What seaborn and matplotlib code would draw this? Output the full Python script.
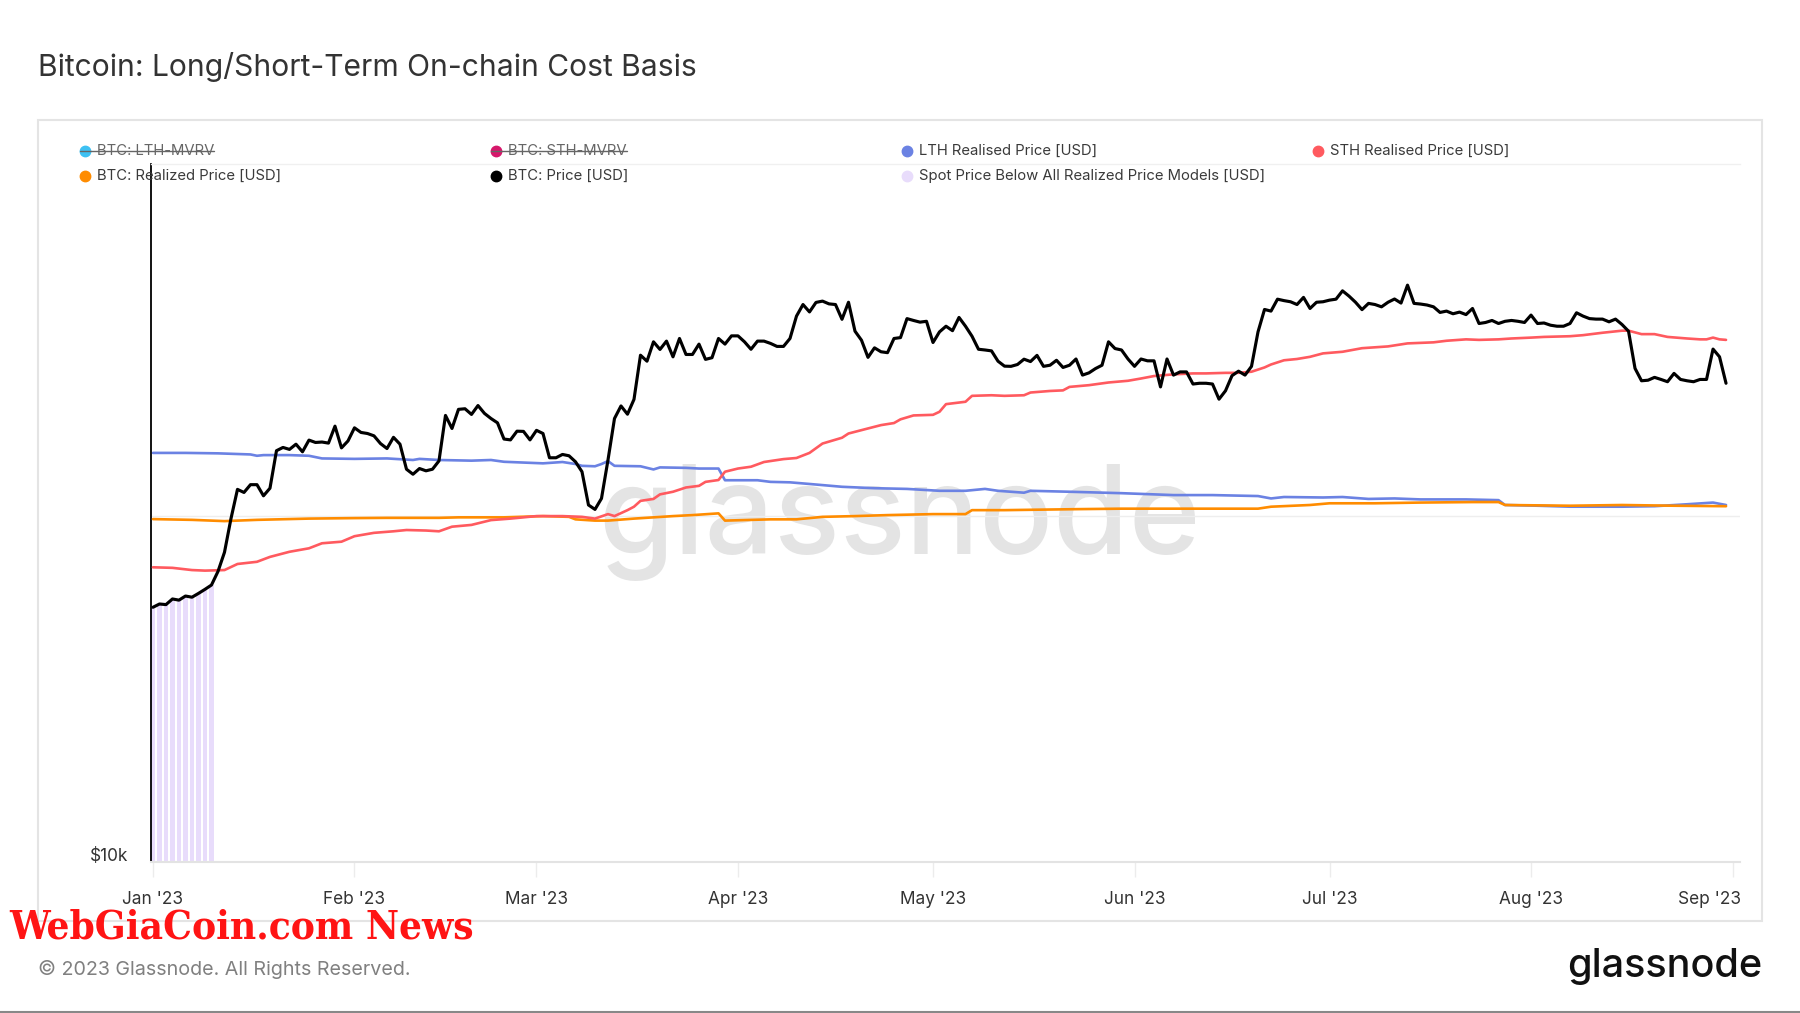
import datetime as dt
import numpy as np
import matplotlib
matplotlib.use("Agg")
import matplotlib.pyplot as plt
import seaborn as sns
from matplotlib.lines import Line2D
from matplotlib.patches import Rectangle
from matplotlib.ticker import NullLocator, NullFormatter
from matplotlib.transforms import ScaledTranslation

# ---------------- data ----------------
START = dt.date(2023, 1, 1)
month_labels = ["Jan '23", "Feb '23", "Mar '23", "Apr '23", "May '23",
                "Jun '23", "Jul '23", "Aug '23", "Sep '23"]
month_days = [(dt.date(2023, m, 1) - START).days for m in range(1, 10)]

# BTC price, daily (thousands USD), day 0 = 2023-01-01
price_days = list(range(243))
btc_price_k = [
    16.66, 16.77, 16.75, 16.94, 16.90, 17.04, 17.00, 17.13, 17.27, 17.42,
    17.90, 18.60, 19.90, 21.10, 20.97, 21.30, 21.30, 20.83, 21.15, 22.80,
    22.95, 22.86, 23.10, 22.75, 23.29, 23.18, 23.20, 23.15, 23.95, 22.93,
    23.25, 23.87, 23.65, 23.60, 23.49, 23.13, 22.90, 23.42, 23.10, 21.97,
    21.75, 22.00, 21.90, 21.97, 22.34, 24.47, 23.84, 24.77, 24.80, 24.52,
    24.96, 24.57, 24.32, 24.11, 23.34, 23.30, 23.71, 23.70, 23.30, 23.75,
    23.60, 22.48, 22.48, 22.63, 22.57, 22.30, 21.86, 20.45, 20.27, 20.72,
    22.38, 24.32, 24.94, 24.53, 25.27, 27.61, 27.28, 28.36, 27.93, 28.40,
    27.52, 28.55, 27.65, 27.65, 28.23, 27.38, 27.47, 28.55, 28.23, 28.70,
    28.70, 28.36, 27.94, 28.40, 28.40, 28.27, 28.10, 28.10, 28.55, 29.86,
    30.56, 30.11, 30.69, 30.77, 30.60, 30.56, 29.67, 30.70, 28.97, 28.45,
    27.49, 28.02, 27.80, 27.75, 28.55, 28.60, 29.71, 29.60, 29.50, 29.55,
    28.32, 28.93, 29.26, 29.00, 29.78, 29.26, 28.68, 27.94, 27.90, 27.85,
    27.28, 27.01, 27.00, 27.10, 27.39, 27.26, 27.60, 27.00, 27.06, 27.33,
    26.94, 27.06, 27.40, 26.53, 26.65, 26.88, 27.06, 28.36, 27.98, 27.90,
    27.40, 27.00, 27.40, 27.30, 27.30, 25.91, 27.40, 26.53, 26.70, 26.70,
    26.06, 26.10, 26.10, 26.06, 25.28, 25.71, 26.50, 26.74, 26.53, 27.00,
    28.93, 30.26, 30.16, 30.89, 30.80, 30.73, 30.56, 31.00, 30.32, 30.70,
    30.73, 30.83, 30.89, 31.41, 31.08, 30.70, 30.25, 30.63, 30.56, 30.42,
    30.70, 30.90, 30.65, 31.77, 30.63, 30.59, 30.53, 30.42, 30.08, 30.16,
    30.00, 30.10, 29.95, 30.32, 29.42, 29.48, 29.60, 29.42, 29.55, 29.60,
    29.55, 29.48, 29.92, 29.42, 29.45, 29.32, 29.26, 29.26, 29.42, 30.06,
    29.86, 29.71, 29.68, 29.68, 29.52, 29.68, 29.36, 28.97, 26.89, 26.23,
    26.26, 26.41, 26.30, 26.18, 26.62, 26.30, 26.23, 26.18, 26.30, 26.30,
    27.95, 27.52, 26.10,
]

# STH realised price (thousands USD)
sth_days = [0, 3, 6, 8, 11, 13, 16, 18, 21, 24, 26, 29, 31, 34, 37, 39, 42, 44, 46, 49,
            52, 55, 59, 63, 66, 68, 70, 71, 73, 74, 75, 77, 78, 80, 82, 84, 85, 87, 88, 90,
            92, 94, 97, 99, 101, 103, 106, 107, 110, 112, 114, 115, 117, 120, 121, 122, 125, 126, 129, 131,
            134, 135, 138, 140, 141, 144, 147, 150, 152, 154, 157, 160, 162, 165, 167, 169, 171, 172, 174, 176,
            178, 180, 183, 186, 190, 193, 197, 199, 202, 204, 207, 209, 212, 214, 218, 220, 223, 226, 227, 229,
            231, 233, 236, 238, 239, 240, 241, 242]
sth_price_k = [18.05, 18.03, 17.95, 17.93, 17.95, 18.17, 18.25, 18.43, 18.62, 18.75,
               18.94, 19.00, 19.21, 19.34, 19.40, 19.45, 19.43, 19.40, 19.58, 19.65,
               19.84, 19.90, 20.00, 20.00, 19.97, 19.90, 20.08, 20.00, 20.24, 20.38,
               20.62, 20.70, 20.89, 21.00, 21.18, 21.25, 21.42, 21.50, 21.86, 22.00,
               22.08, 22.29, 22.42, 22.47, 22.70, 23.13, 23.40, 23.60, 23.84, 24.00,
               24.10, 24.28, 24.47, 24.50, 24.65, 25.03, 25.15, 25.45, 25.48, 25.45,
               25.48, 25.62, 25.70, 25.73, 25.91, 26.00, 26.14, 26.23, 26.35, 26.48,
               26.57, 26.62, 26.62, 26.65, 26.65, 26.71, 26.94, 27.10, 27.33, 27.40,
               27.52, 27.71, 27.80, 28.00, 28.10, 28.27, 28.33, 28.42, 28.50, 28.47,
               28.50, 28.55, 28.60, 28.64, 28.68, 28.74, 28.88, 29.00, 29.00, 28.80,
               28.80, 28.64, 28.55, 28.50, 28.50, 28.60, 28.50, 28.47]

# LTH realised price (thousands USD)
lth_days = [0, 5, 10, 15, 16, 17, 21, 24, 26, 31, 36, 40, 41, 44, 49, 52, 54, 60, 63, 65,
            66, 68, 69, 70, 71, 75, 77, 78, 82, 84, 87, 88, 93, 95, 98, 101, 106, 111, 116, 121,
            125, 128, 130, 134, 135, 141, 149, 157, 163, 170, 172, 174, 180, 183, 187, 191, 195, 202, 207, 208,
            213, 218, 226, 231, 236, 240, 242]
lth_price_k = [22.70, 22.70, 22.68, 22.63, 22.57, 22.60, 22.60, 22.57, 22.45, 22.43,
               22.45, 22.38, 22.43, 22.38, 22.35, 22.38, 22.30, 22.23, 22.29, 22.20,
               22.12, 22.10, 22.20, 22.33, 22.12, 22.10, 21.96, 22.05, 22.03, 22.00,
               22.00, 21.49, 21.49, 21.42, 21.40, 21.33, 21.21, 21.15, 21.12, 21.04,
               21.04, 21.12, 21.04, 20.96, 21.04, 21.00, 20.94, 20.86, 20.86, 20.82,
               20.72, 20.78, 20.76, 20.78, 20.70, 20.72, 20.68, 20.68, 20.65, 20.45,
               20.42, 20.38, 20.38, 20.40, 20.48, 20.55, 20.45]

# BTC realized price (thousands USD)
rp_days = [0, 6, 11, 16, 24, 31, 36, 44, 47, 54, 60, 64, 65, 68, 70, 74, 80, 83, 87, 88,
           95, 99, 103, 108, 113, 120, 125, 126, 131, 142, 149, 157, 164, 170, 172, 178, 181, 188, 195, 203,
           207, 208, 218, 226, 234, 242]
rp_price_k = [19.88, 19.85, 19.80, 19.85, 19.90, 19.92, 19.93, 19.93, 19.95, 19.95,
              20.00, 19.97, 19.87, 19.82, 19.82, 19.90, 20.00, 20.04, 20.11, 19.82,
              19.87, 19.87, 19.97, 20.00, 20.04, 20.08, 20.08, 20.24, 20.24, 20.28,
              20.30, 20.30, 20.30, 20.30, 20.38, 20.45, 20.52, 20.52, 20.55, 20.57,
              20.57, 20.45, 20.42, 20.45, 20.42, 20.40]

# Spot price below all realized price models (thousands USD)
spot_below_days = list(range(10))
spot_below_k = btc_price_k[:10]

title = "Bitcoin: Long/Short-Term On-chain Cost Basis"

# ---------------- style ----------------
sns.set_theme(style="white")
plt.rcParams["font.family"] = ["Inter", "DejaVu Sans"]

W, H = 1800, 1013
fig = plt.figure(figsize=(18, 10.13), dpi=100)
fig.patch.set_facecolor("white")


def fx(px):
    return px / W


def fy(py):
    return 1 - py / H


ax_l, ax_r, ax_t, ax_b = 150.7, 1740, 164, 862
ax = fig.add_axes([fx(ax_l), fy(ax_b), fx(ax_r) - fx(ax_l), fy(ax_t) - fy(ax_b)])
ax.set_facecolor("white")

C_LTH = "#6b82e3"
C_STH = "#ff5a5f"
C_RP = "#ff8c00"
C_PX = "#000000"
C_SPOT = "#e8dcfb"

# watermark
ax.text(fx(899), fy(554), "glassnode", transform=fig.transFigure, ha="center",
        va="baseline", fontsize=88, color="#e4e4e4", fontweight="medium", zorder=0.2)

ax.axhline(20000, color="#eeeeee", lw=1.0, zorder=0.5)

# spot price below all models bars
spot_vals = np.array(spot_below_k) * 1000
ax.bar(spot_below_days, spot_vals - 10000, bottom=10000, width=0.72,
       color=C_SPOT, linewidth=0, zorder=1)

sns.lineplot(x=lth_days, y=np.array(lth_price_k) * 1000, ax=ax, color=C_LTH,
             linewidth=1.9, estimator=None, legend=False, zorder=2)
sns.lineplot(x=rp_days, y=np.array(rp_price_k) * 1000, ax=ax, color=C_RP,
             linewidth=1.9, estimator=None, legend=False, zorder=3)
sns.lineplot(x=sth_days, y=np.array(sth_price_k) * 1000, ax=ax, color=C_STH,
             linewidth=1.9, estimator=None, legend=False, zorder=4)
sns.lineplot(x=price_days, y=np.array(btc_price_k) * 1000, ax=ax, color=C_PX,
             linewidth=2.25, estimator=None, legend=False, zorder=5)

ax.set_yscale("log")
ax.set_ylim(10000, 40500)
ax.set_xlim(-0.35, 244.15)
ax.set_xlabel("")
ax.set_ylabel("")

ax.set_yticks([10000])
ax.set_yticklabels(["$10k"])
ax.yaxis.set_minor_locator(NullLocator())
ax.yaxis.set_minor_formatter(NullFormatter())
ax.tick_params(axis="y", length=0, pad=16, labelsize=12.4, labelcolor="#333333", left=False)
for lbl in ax.get_yticklabels():
    lbl.set_va("bottom")
    lbl.set_transform(lbl.get_transform() + ScaledTranslation(0, -0.025, fig.dpi_scale_trans))

ax.set_xticks(month_days)
ax.set_xticklabels(month_labels)
ax.tick_params(axis="x", bottom=True, length=11, width=1, color="#ececec",
               pad=10, labelsize=12.4, labelcolor="#333333")
last = ax.get_xticklabels()[-1]
last.set_ha("right")
last.set_transform(last.get_transform() + ScaledTranslation(0.08, 0, fig.dpi_scale_trans))

ax.grid(False)
ax.spines["left"].set_color("#000000")
ax.spines["left"].set_linewidth(1.3)
ax.spines["bottom"].set_color("#e3e3e3")
ax.spines["bottom"].set_linewidth(1.5)
ax.spines["top"].set_color("#f0f0f0")
ax.spines["top"].set_linewidth(1.0)
ax.spines["right"].set_visible(False)

# outer frame
fig.add_artist(Rectangle((fx(38), fy(921)), fx(1762) - fx(38), fy(120) - fy(921),
                         transform=fig.transFigure, fill=False,
                         edgecolor="#e4e4e4", linewidth=1.5, zorder=0))

# title
fig.text(fx(38), fy(67), title, va="center", ha="left", fontsize=21.6, color="#333333")

# legend (manual grid)
legend_items = [
    (85, 151, "#3ec1f3", "BTC: LTH-MVRV", True),
    (496, 151, "#d6176b", "BTC: STH-MVRV", True),
    (907, 151, C_LTH, "LTH Realised Price [USD]", False),
    (1318, 151, C_STH, "STH Realised Price [USD]", False),
    (85, 176, C_RP, "BTC: Realized Price [USD]", False),
    (496, 176, C_PX, "BTC: Price [USD]", False),
    (907, 176, C_SPOT, "Spot Price Below All Realized Price Models [USD]", False),
]
texts = []
for mx, my, col, label, struck in legend_items:
    fig.add_artist(Line2D([fx(mx)], [fy(my)], marker="o", markersize=7.5,
                          color=col, linestyle="none", transform=fig.transFigure))
    t = fig.text(fx(mx + 12), fy(my), label, va="center", ha="left", fontsize=10.7,
                 color="#666666" if struck else "#3a3a3a")
    texts.append((t, mx, my, struck))

fig.canvas.draw()
renderer = fig.canvas.get_renderer()
for t, mx, my, struck in texts:
    if struck:
        bb = t.get_window_extent(renderer)
        fig.add_artist(Line2D([fx(mx - 5), bb.x1 / W], [fy(my), fy(my)],
                              color="#666666", linewidth=1.0, transform=fig.transFigure))

# footer
fig.text(fx(38), fy(969), "© 2023 Glassnode. All Rights Reserved.", va="center",
         ha="left", fontsize=14.2, color="#808080")
fig.text(fx(1762), fy(966), "glassnode", va="center", ha="right", fontsize=28.5,
         color="#111111", fontweight="medium")
fig.text(fx(9), fy(927), "WebGiaCoin.com News", va="center", ha="left", fontsize=29,
         color="#ff1414", fontweight="bold", fontstretch="condensed",
         family=["DejaVu Serif"], zorder=10)
fig.add_artist(Line2D([0, 1], [fy(1011.5), fy(1011.5)], color="#888888",
                      linewidth=1.5, transform=fig.transFigure))

fig.savefig("out.png", dpi=100, facecolor="white")
